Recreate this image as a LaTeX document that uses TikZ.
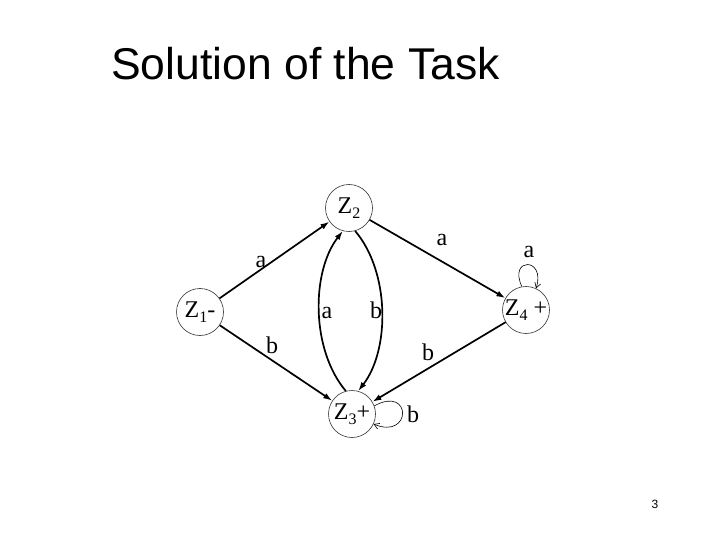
\documentclass[tikz,border=0pt]{standalone}
\usepackage{fontspec}
\setmainfont{Liberation Serif}
\newfontfamily\titlefont{Liberation Sans}
\usetikzlibrary{arrows.meta}
\newcommand{\zsub}[1]{\raisebox{-5pt}{\fontsize{16}{16}\selectfont #1}}
\begin{document}
\begin{tikzpicture}[x=1pt,y=-1pt,
  state/.style={circle,draw=black!80,line width=0.6pt,minimum size=47pt,inner sep=0pt,font=\fontsize{24}{26}\selectfont},
  lbl/.style={anchor=base,inner sep=0pt,font=\fontsize{24}{26}\selectfont},
  trans/.style={line width=1.7pt,-{Latex[length=9pt,width=6pt]}},
  loopedge/.style={line width=0.6pt,-{Straight Barb[length=5pt,width=6pt]}}]
\useasboundingbox (0,0) rectangle (720,540);
\node[anchor=base west,inner sep=0pt,font=\titlefont\fontsize{44.5}{50}\selectfont] (title) at (111,80) {Solution of the Task};
\node[state] (z2) at (349,208) {Z\zsub{2}};
\node[state] (z1) at (200,312) {Z\zsub{1}-};
\node[state] (z3) at (352,414) {Z\zsub{3}+};
\node[state] (z4) at (526,310) {Z\zsub{4} +};
\draw[trans] (z1) -- (z2);
\draw[trans] (z1) -- (z3);
\draw[trans] (z2) -- (z4);
\draw[trans] (z4) -- (z3);
\draw[trans] (z3.105) .. controls (311,350) and (311,272) .. (z2.255);
\draw[trans] (z2.285) .. controls (390,272) and (390,350) .. (z3.75);
\draw[loopedge] (z3.20) .. controls (412,385) and (412,440) .. (z3.-25);
\draw[loopedge] (z4.100) .. controls (508,257) and (546,257) .. (z4.65);
\node[lbl] (l1) at (261,267) {a};
\node[lbl] (l2) at (327,318) {a};
\node[lbl] (l3) at (376,318) {b};
\node[lbl] (l4) at (272,353) {b};
\node[lbl] (l5) at (442,245) {a};
\node[lbl] (l6) at (529,257) {a};
\node[lbl] (l7) at (428,360) {b};
\node[lbl] (l8) at (413,422) {b};
\node[anchor=base,inner sep=0pt,font=\titlefont\fontsize{12}{14}\selectfont] (pg) at (655,508) {3};
\end{tikzpicture}
\end{document}
